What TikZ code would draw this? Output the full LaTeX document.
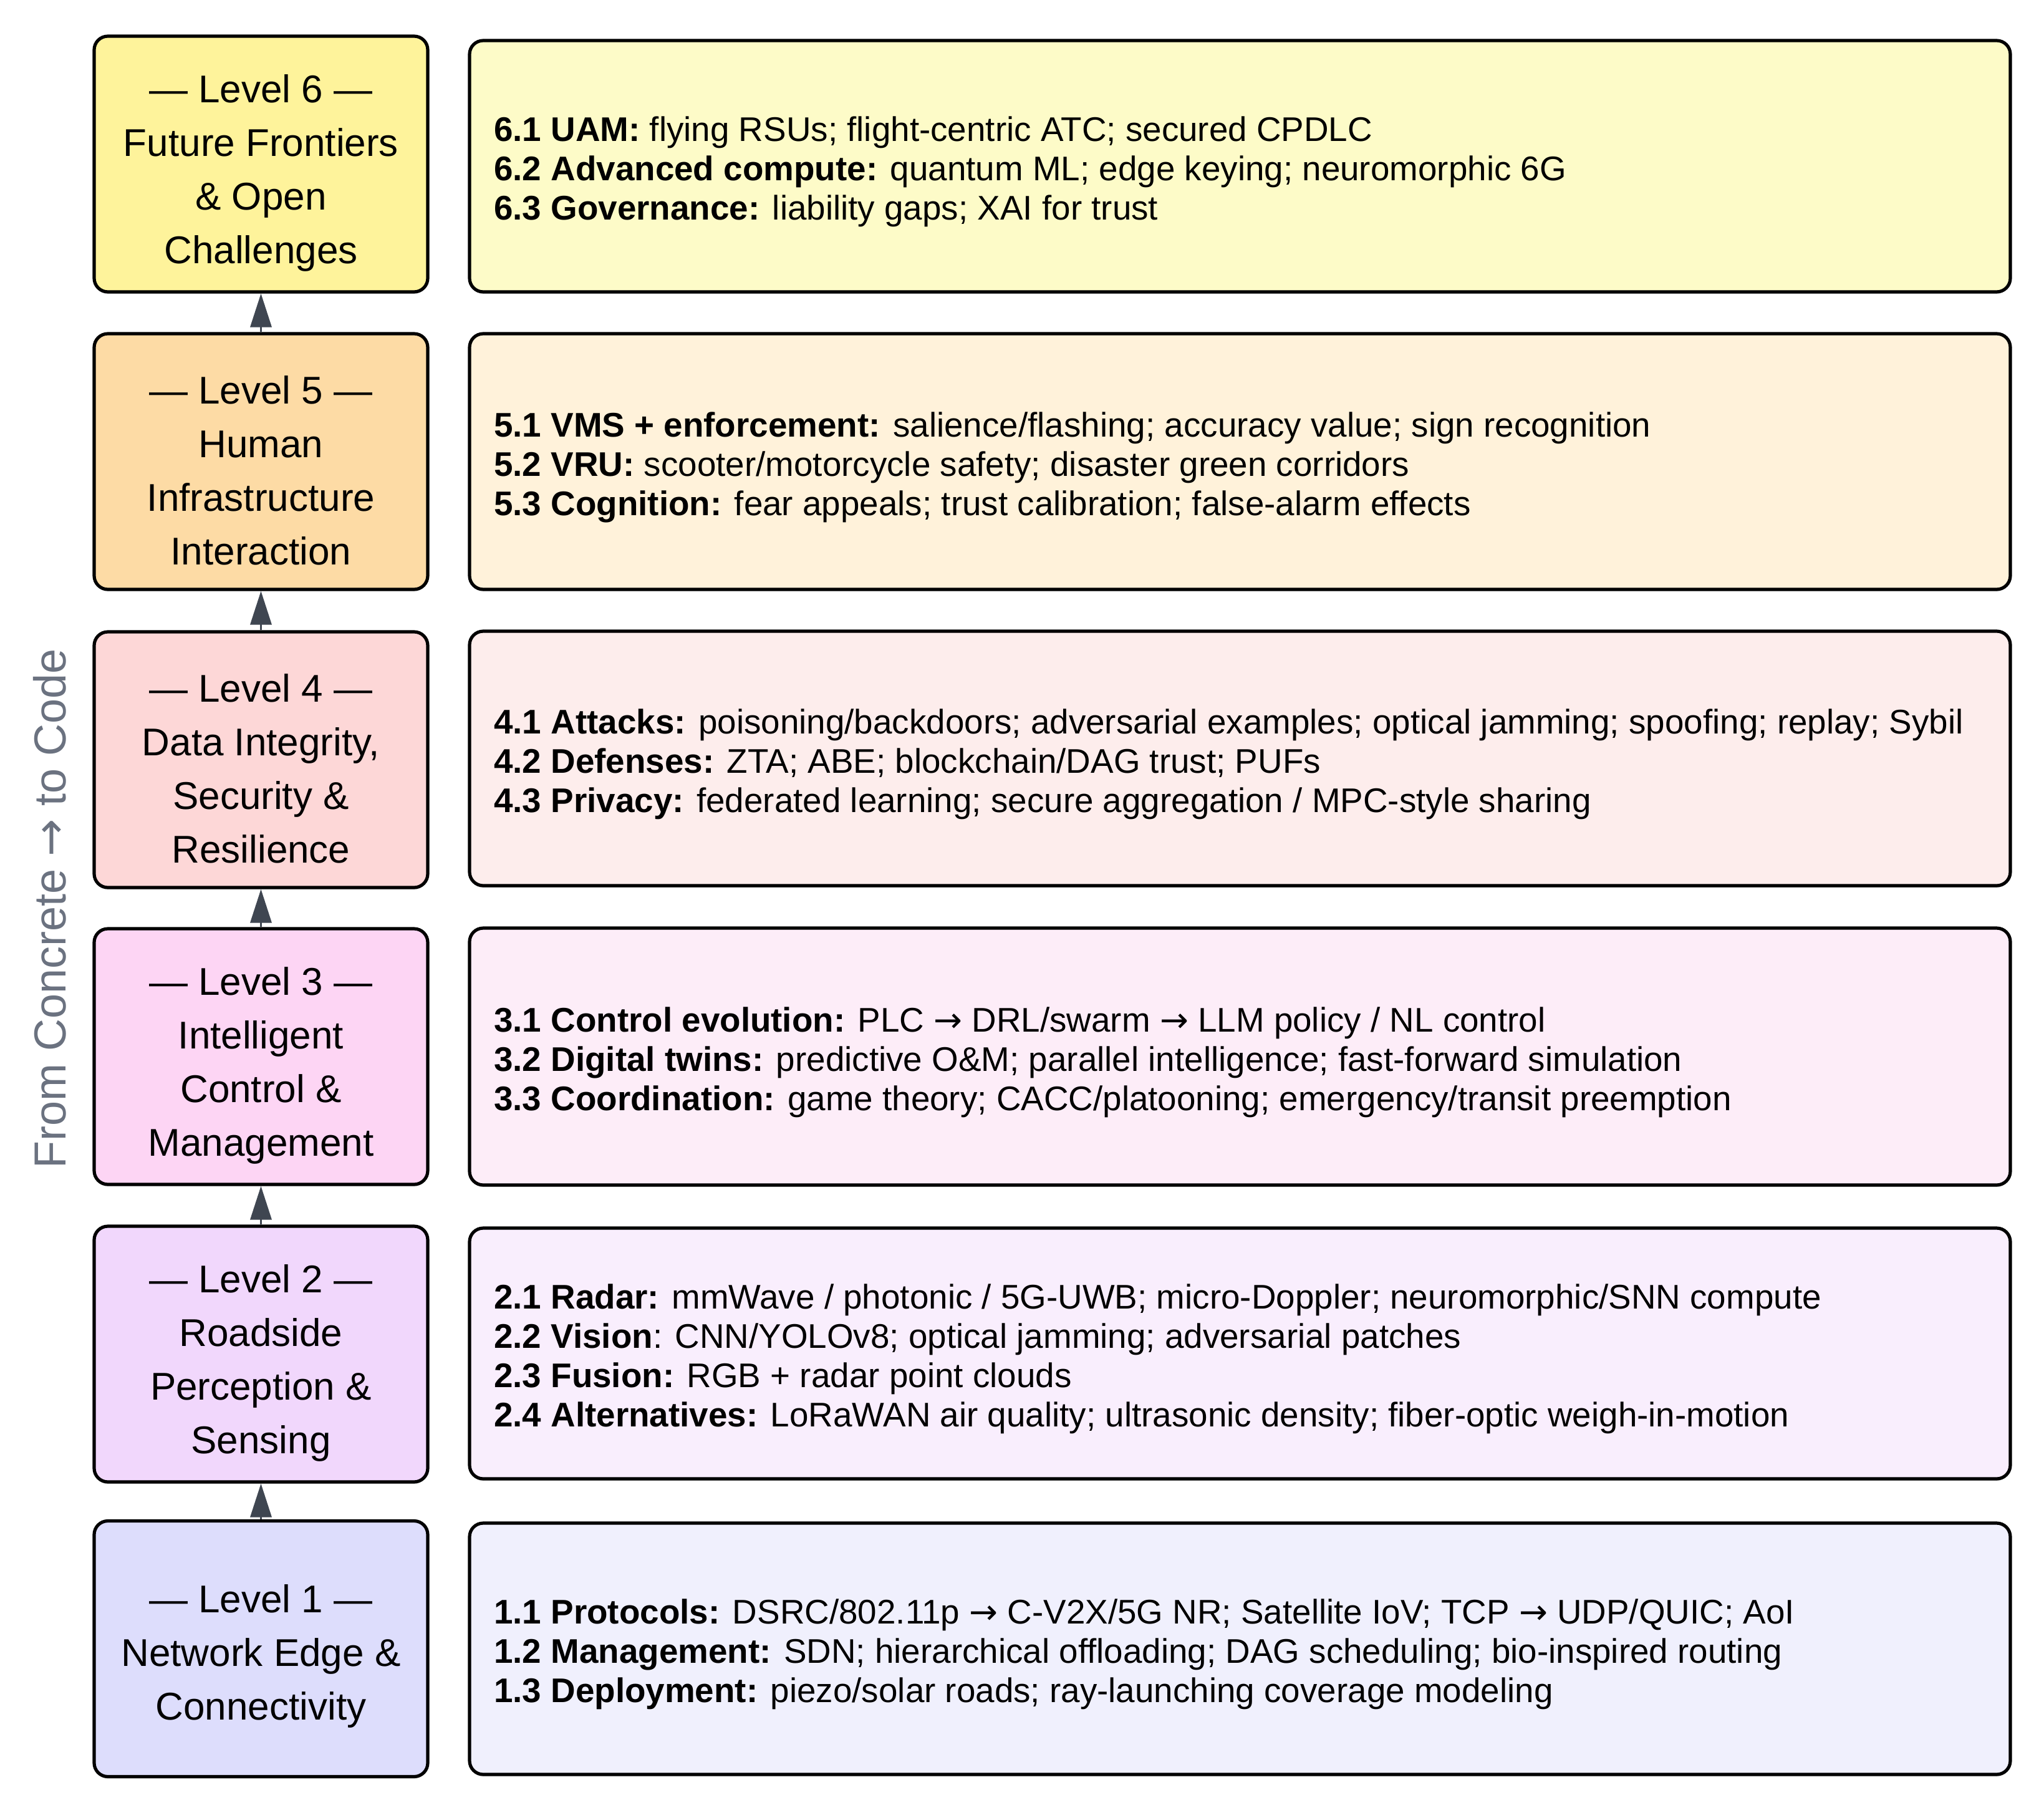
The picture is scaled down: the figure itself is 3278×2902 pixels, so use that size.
\documentclass[tikz,border=0pt]{standalone}
\usepackage{fontspec}
\setmainfont{Liberation Sans}
\newfontfamily\arrowfont{DejaVu Sans}
\newcommand{\rarr}{{\arrowfont\symbol{"2192}}}
\usetikzlibrary{arrows.meta,shadows}
\definecolor{lsix}{HTML}{FEF39B}
\definecolor{rsix}{HTML}{FDFBC8}
\definecolor{lfive}{HTML}{FDDBA5}
\definecolor{rfive}{HTML}{FFF2DA}
\definecolor{lfour}{HTML}{FDD7D7}
\definecolor{rfour}{HTML}{FDEDEC}
\definecolor{lthree}{HTML}{FDD5F4}
\definecolor{rthree}{HTML}{FDEDF8}
\definecolor{ltwo}{HTML}{F1D7FC}
\definecolor{rtwo}{HTML}{F9EEFD}
\definecolor{lone}{HTML}{DDDDFC}
\definecolor{rone}{HTML}{F0F0FD}
\definecolor{arrowc}{HTML}{3F4651}
\definecolor{labgray}{HTML}{6B7280}
\begin{document}
\begin{tikzpicture}[x=0.25pt,y=-0.25pt,
  boxbase/.style={draw=black, line width=1.3pt, rounded corners=5.5pt, inner sep=0pt,
    drop shadow={shadow xshift=0pt, shadow yshift=-0.8pt, opacity=0.35, fill=gray}},
  lbox/.style={boxbase, minimum width=133.75pt, minimum height=102.5pt},
  ltext/.style={align=center, inner sep=0pt, font=\fontsize{15.5}{21.5}\selectfont},
  rbox/.style={boxbase, minimum width=617.75pt, minimum height=101.5pt},
  rtext/.style={anchor=west, align=left, inner sep=0pt, font=\fontsize{13.7}{15.75}\selectfont},
  arr/.style={draw=arrowc, line width=0.9pt, -{Triangle[length=13.5pt,width=8.5pt]}}
]
\useasboundingbox[fill=white] (0,0) rectangle (3278,2902);

% Left level boxes
\node[lbox, fill=lsix]   (l6) at (418.5,263)  {};
\node[lbox, fill=lfive]  (l5) at (418.5,740)  {};
\node[lbox, fill=lfour]  (l4) at (418.5,1218) {};
\node[lbox, fill=lthree] (l3) at (418.5,1694) {};
\node[lbox, fill=ltwo]   (l2) at (418.5,2171) {};
\node[lbox, fill=lone]   (l1) at (418.5,2643.5) {};

\node[ltext] (n6) at ([yshift=-3.5pt]l6.center) {— Level 6 —\\Future Frontiers\\\& Open\\Challenges};
\node[ltext] (n5) at ([yshift=-3.5pt]l5.center) {— Level 5 —\\Human\\Infrastructure\\Interaction};
\node[ltext] (n4) at ([yshift=-3.5pt]l4.center) {— Level 4 —\\Data Integrity,\\Security \&\\Resilience};
\node[ltext] (n3) at ([yshift=-3.5pt]l3.center) {— Level 3 —\\Intelligent\\Control \&\\Management};
\node[ltext] (n2) at ([yshift=-3.5pt]l2.center) {— Level 2 —\\Roadside\\Perception \&\\Sensing};
\node[ltext] (n1) at ([yshift=-3pt]l1.center) {— Level 1 —\\Network Edge \&\\Connectivity};

% Right detail boxes
\node[rbox, fill=rsix,   minimum height=100.75pt] (r6) at (1988.5,266.5) {};
\node[rbox, fill=rfive,  minimum height=102.5pt]  (r5) at (1988.5,740) {};
\node[rbox, fill=rfour,  minimum height=102pt]    (r4) at (1988.5,1216) {};
\node[rbox, fill=rthree, minimum height=103pt]    (r3) at (1988.5,1694) {};
\node[rbox, fill=rtwo,   minimum height=100.5pt]  (r2) at (1988.5,2170) {};
\node[rbox, fill=rone,   minimum height=100.75pt] (r1) at (1988.5,2643.5) {};

\node[rtext] (t6) at ([xshift=10.25pt,yshift=-2.3pt]r6.west) {\textbf{6.1 UAM:} flying RSUs; flight-centric ATC; secured CPDLC\\
\textbf{6.2 Advanced compute:} quantum ML; edge keying; neuromorphic 6G\\
\textbf{6.3 Governance:} liability gaps; XAI for trust};
\node[rtext] (t5) at ([xshift=10.25pt,yshift=-2.3pt]r5.west) {\textbf{5.1 VMS + enforcement:} salience/flashing; accuracy value; sign recognition\\
\textbf{5.2 VRU:} scooter/motorcycle safety; disaster green corridors\\
\textbf{5.3 Cognition:} fear appeals; trust calibration; false-alarm effects};
\node[rtext] (t4) at ([xshift=10.25pt,yshift=-2.3pt]r4.west) {\textbf{4.1 Attacks:} poisoning/backdoors; adversarial examples; optical jamming; spoofing; replay; Sybil\\
\textbf{4.2 Defenses:} ZTA; ABE; blockchain/DAG trust; PUFs\\
\textbf{4.3 Privacy:} federated learning; secure aggregation / MPC-style sharing};
\node[rtext] (t3) at ([xshift=10.25pt,yshift=-2.3pt]r3.west) {\textbf{3.1 Control evolution:} PLC \rarr{} DRL/swarm \rarr{} LLM policy / NL control\\
\textbf{3.2 Digital twins:} predictive O\&M; parallel intelligence; fast-forward simulation\\
\textbf{3.3 Coordination:} game theory; CACC/platooning; emergency/transit preemption};
\node[rtext] (t2) at ([xshift=10.25pt,yshift=-2.3pt]r2.west) {\textbf{2.1 Radar:} mmWave / photonic / 5G-UWB; micro-Doppler; neuromorphic/SNN compute\\
\textbf{2.2 Vision}: CNN/YOLOv8; optical jamming; adversarial patches\\
\textbf{2.3 Fusion:} RGB + radar point clouds\\
\textbf{2.4 Alternatives:} LoRaWAN air quality; ultrasonic density; fiber-optic weigh-in-motion};
\node[rtext] (t1) at ([xshift=10.25pt,yshift=-2.3pt]r1.west) {\textbf{1.1 Protocols:} DSRC/802.11p \rarr{} C-V2X/5G NR; Satellite IoV; TCP \rarr{} UDP/QUIC; AoI\\
\textbf{1.2 Management:} SDN; hierarchical offloading; DAG scheduling; bio-inspired routing\\
\textbf{1.3 Deployment:} piezo/solar roads; ray-launching coverage modeling};

% Upward arrows
\draw[arr] (l1.north) -- (l2.south);
\draw[arr] (l2.north) -- (l3.south);
\draw[arr] (l3.north) -- (l4.south);
\draw[arr] (l4.north) -- (l5.south);
\draw[arr] (l5.north) -- (l6.south);

% Side label
\node[rotate=90, text=labgray, font=\fontsize{18}{20}\selectfont, inner sep=0pt] (side) at (80,1457) {From Concrete \rarr{} to Code};
\end{tikzpicture}
\end{document}
